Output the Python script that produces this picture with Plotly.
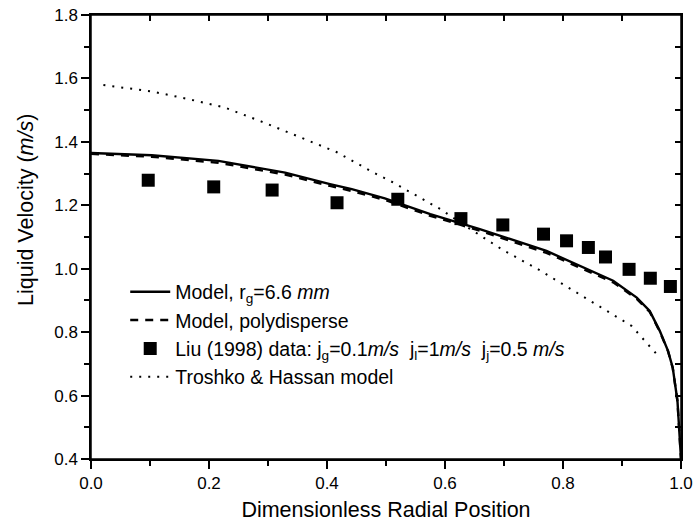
import plotly.graph_objects as go

# Liu (1998) measurements
liu_r = [0.097, 0.208, 0.307, 0.417, 0.520, 0.627, 0.698, 0.767, 0.806, 0.843, 0.872, 0.912, 0.948, 0.982]
liu_u = [1.279, 1.258, 1.248, 1.208, 1.219, 1.158, 1.138, 1.109, 1.088, 1.067, 1.037, 0.998, 0.970, 0.944]

# Model, r_g = 6.6 mm
model_r = [0.0, 0.103, 0.216, 0.329, 0.405, 0.442, 0.498, 0.575, 0.659, 0.744, 0.772, 0.885,
           0.925, 0.947, 0.964, 0.978, 0.986, 0.994, 0.997, 0.999, 1.0]
model_u = [1.365, 1.358, 1.340, 1.303, 1.267, 1.251, 1.222, 1.172, 1.125, 1.072, 1.056, 0.962,
           0.909, 0.867, 0.804, 0.741, 0.688, 0.583, 0.478, 0.420, 0.400]

# Model, polydisperse
poly_r = [0.0, 0.103, 0.216, 0.329, 0.405, 0.442, 0.498, 0.575, 0.659, 0.744, 0.772, 0.885,
          0.925, 0.947, 0.964, 0.978, 0.986, 0.994, 0.997, 0.999, 1.0]
poly_u = [1.362, 1.353, 1.334, 1.297, 1.261, 1.245, 1.217, 1.167, 1.120, 1.066, 1.050, 0.957,
          0.905, 0.864, 0.802, 0.740, 0.687, 0.582, 0.478, 0.420, 0.400]

# Troshko & Hassan model
th_r = [0.021, 0.103, 0.165, 0.227, 0.289, 0.351, 0.416, 0.479, 0.512, 0.592, 0.637, 0.699,
        0.742, 0.758, 0.837, 0.916, 0.959]
th_u = [1.579, 1.559, 1.535, 1.508, 1.464, 1.416, 1.368, 1.303, 1.272, 1.188, 1.132, 1.058,
        1.014, 0.998, 0.909, 0.820, 0.730]

x_range = [0, 1.0]
y_range = [0.4, 1.8]

FONT = "Liberation Sans, Arial, sans-serif"

fig = go.Figure()
fig.add_trace(go.Scatter(x=model_r, y=model_u, mode="lines",
                         line=dict(color="black", width=2.4),
                         name="Model, r<sub>g</sub>=6.6 <i>mm</i>"))
fig.add_trace(go.Scatter(x=poly_r, y=poly_u, mode="lines",
                         line=dict(color="black", width=2.4, dash="8px,7px"),
                         name="Model, polydisperse"))
fig.add_trace(go.Scatter(x=liu_r, y=liu_u, mode="markers",
                         marker=dict(symbol="square", size=13, color="black"),
                         name="Liu (1998) data: j<sub>g</sub>=0.1<i>m/s</i>  j<sub>l</sub>=1<i>m/s</i>  j<sub>j</sub>=0.5 <i>m/s</i>"))
fig.add_trace(go.Scatter(x=th_r, y=th_u, mode="lines",
                         line=dict(color="black", width=2, dash="2px,7px"),
                         name="Troshko &amp; Hassan model"))
# transparent copy on the top/right axis pair, which carries the inward frame ticks
fig.add_trace(go.Scatter(x=liu_r, y=liu_u, xaxis="x2", yaxis="y2", mode="markers",
                         marker=dict(color="rgba(0,0,0,0)"), showlegend=False, hoverinfo="skip"))

axis_common = dict(showline=True, linecolor="black", linewidth=1.5, showgrid=False,
                   zeroline=False, tickcolor="black", tickwidth=1.5)
minor_out = dict(dtick=0.1, ticklen=5, tickcolor="black", tickwidth=1.5, ticks="outside")

fig.update_layout(
    width=693, height=528,
    margin=dict(l=91, r=12, t=15, b=69),
    plot_bgcolor="white", paper_bgcolor="white",
    font=dict(family=FONT, size=17, color="black"),
    showlegend=True,
    legend=dict(x=0.058, y=0.42, xanchor="left", yanchor="top",
                bgcolor="rgba(0,0,0,0)", font=dict(size=19.5, family=FONT),
                tracegroupgap=0, itemwidth=40),
    xaxis=dict(**axis_common, range=x_range, ticks="outside", ticklen=8, automargin=False,
               tickmode="linear", tick0=0, dtick=0.2, tickformat=".1f", minor=minor_out,
               tickfont=dict(size=17),
               title=dict(text="Dimensionless Radial Position", font=dict(size=21.5), standoff=10)),
    yaxis=dict(**axis_common, range=y_range, ticks="outside", ticklen=8, automargin=False,
               tickmode="linear", tick0=0.4, dtick=0.2, tickformat=".1f", minor=minor_out,
               tickfont=dict(size=17)),
    xaxis2=dict(**axis_common, range=x_range, overlaying="x", side="top", anchor="y2",
                ticks="inside", ticklen=6, tickmode="linear", tick0=0, dtick=0.1,
                showticklabels=False),
    yaxis2=dict(**axis_common, range=y_range, overlaying="y", side="right", anchor="x2",
                ticks="inside", ticklen=6, tickmode="linear", tick0=0.4, dtick=0.1,
                showticklabels=False),
    # plot frame
    shapes=[dict(type="rect", xref="x domain", yref="y domain", x0=0, x1=1, y0=0, y1=1,
                 line=dict(color="black", width=1.5), fillcolor="rgba(0,0,0,0)", layer="above")],
    annotations=[dict(text="Liquid Velocity (<i>m/s</i>)", textangle=-90,
                      xref="paper", yref="paper", x=-0.11, y=0.561,
                      xanchor="center", yanchor="middle", showarrow=False,
                      font=dict(size=21.5, family=FONT))],
)

fig.write_html("out.html")
